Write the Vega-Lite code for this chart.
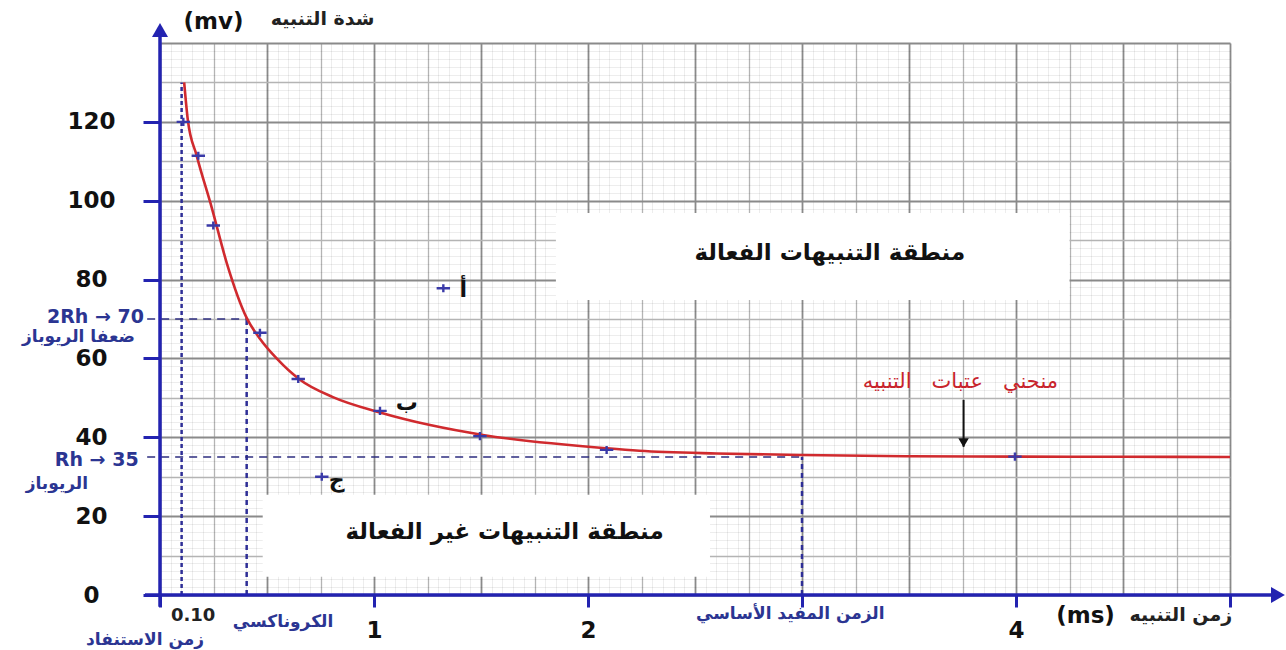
{
  "$schema": "https://vega.github.io/schema/vega-lite/v6.json",
  "width": 1070,
  "height": 552,
  "autosize": {"type": "none"},
  "padding": {"left": 160, "top": 43, "right": 56, "bottom": 55},
  "background": "white",
  "config": {"view": {"stroke": null}, "font": "DejaVu Sans"},
  "datasets": {
    "curve": [
      {"t": 0.113, "v": 130}, {"t": 0.13, "v": 120.5}, {"t": 0.171, "v": 111.5}, {"t": 0.242, "v": 98.2},
      {"t": 0.312, "v": 84.2}, {"t": 0.405, "v": 70.3}, {"t": 0.467, "v": 65.0}, {"t": 0.545, "v": 60.0},
      {"t": 0.654, "v": 54.6}, {"t": 0.808, "v": 50.2}, {"t": 1.028, "v": 46.3}, {"t": 1.262, "v": 43.1},
      {"t": 1.509, "v": 40.6}, {"t": 2.09, "v": 37.2}, {"t": 2.24, "v": 36.6}, {"t": 2.6, "v": 35.9},
      {"t": 3.0, "v": 35.5}, {"t": 3.5, "v": 35.2}, {"t": 4.0, "v": 35.1}, {"t": 4.5, "v": 35.05}, {"t": 5.0, "v": 35.0}
    ],
    "marks": [
      {"t": 0.109, "v": 120.0}, {"t": 0.179, "v": 111.4}, {"t": 0.249, "v": 93.7}, {"t": 0.467, "v": 66.5},
      {"t": 0.646, "v": 54.8}, {"t": 1.028, "v": 46.7}, {"t": 1.495, "v": 40.3}, {"t": 2.087, "v": 36.8},
      {"t": 3.995, "v": 35.1}, {"t": 1.324, "v": 77.8}, {"t": 0.756, "v": 30.0}
    ],
    "guides": [
      {"kind": "dot", "x": 0.101, "x2": 0.101, "y": 0, "y2": 130},
      {"kind": "vdash", "x": 0.405, "x2": 0.405, "y": 0, "y2": 70},
      {"kind": "vdash", "x": 3.0, "x2": 3.0, "y": 0, "y2": 35},
      {"kind": "hdash", "x": -0.06, "x2": 0.405, "y": 70, "y2": 70},
      {"kind": "hdash", "x": -0.06, "x2": 3.0, "y": 35, "y2": 35},
      {"kind": "axis", "x": 0, "x2": 0, "y": -3, "y2": 142},
      {"kind": "axis", "x": -0.07, "x2": 5.2, "y": 0, "y2": 0},
      {"kind": "arrow", "x": 3.755, "x2": 3.755, "y": 49.5, "y2": 37.6}
    ],
    "heads": [
      {"x": 0, "y": 143.3, "dir": "up"},
      {"x": 5.224, "y": 0, "dir": "right"}
    ],
    "boxes": [
      {"x": 1.85, "x2": 4.25, "y": 74.8, "y2": 96.9},
      {"x": 0.48, "x2": 2.57, "y": 4.6, "y2": 25.4}
    ],
    "texts": [
      {"role": "region", "t": "منطقة التنبيهات الفعالة", "x": 3.13, "y": 86.8},
      {"role": "region", "t": "منطقة التنبيهات غير الفعالة", "x": 1.61, "y": 16.0},
      {"role": "curve", "t": "منحني\u00a0\u00a0\u00a0عتبات\u00a0\u00a0\u00a0التنبيه", "x": 3.74, "y": 54.0},
      {"role": "letter", "t": "أ", "x": 1.417, "y": 77.4},
      {"role": "letter", "t": "ب", "x": 1.153, "y": 48.6},
      {"role": "letter", "t": "ج", "x": 0.826, "y": 29.2},
      {"role": "rh", "t": "2Rh → 70", "x": -0.075, "y": 70.6},
      {"role": "rh", "t": "Rh → 35", "x": -0.1, "y": 34.2},
      {"role": "note", "t": "ضعفا الريوباز", "x": -0.381, "y": 65.5},
      {"role": "note", "t": "الريوباز", "x": -0.482, "y": 28.2},
      {"role": "note", "t": "زمن الاستنفاد", "x": -0.07, "y": -11.4},
      {"role": "note", "t": "الكروناكسي", "x": 0.575, "y": -6.8},
      {"role": "note", "t": "الزمن المفيد الأساسي", "x": 2.945, "y": -4.8},
      {"role": "bold", "t": "0.10", "x": 0.155, "y": -5.3},
      {"role": "unit", "t": "(ms)", "x": 4.325, "y": -5.3},
      {"role": "unitAr", "t": "زمن التنبيه", "x": 4.77, "y": -5.0},
      {"role": "unit", "t": "(mv)", "x": 0.25, "y": 145.3},
      {"role": "unitAr", "t": "شدة التنبيه", "x": 0.76, "y": 146.2}
    ]
  },
  "layer": [
    {
      "data": {"name": "guides"},
      "transform": [{"filter": "datum.kind == 'dot'"}],
      "mark": {"type": "rule", "color": "#2e2e96", "strokeWidth": 2.5, "strokeDash": [4, 3]},
      "encoding": {
        "x": {"field": "x", "type": "quantitative", "scale": {"domain": [0, 5], "nice": false},
          "axis": {"orient": "bottom", "values": [0, 1, 2, 3, 4, 5], "grid": false, "domain": false,
            "ticks": true, "tickColor": "#2323b0", "tickWidth": 3, "tickSize": 12,
            "labelExpr": "datum.value == 1 || datum.value == 2 || datum.value == 4 ? datum.label : ''",
            "labelFont": "DejaVu Sans", "labelFontWeight": "bold", "labelFontSize": 23, "labelColor": "#111111",
            "labelPadding": 12, "title": null}},
        "x2": {"field": "x2"},
        "y": {"field": "y", "type": "quantitative", "scale": {"domain": [0, 140], "nice": false},
          "axis": {"orient": "left", "values": [0, 20, 40, 60, 80, 100, 120], "grid": false, "domain": false,
            "ticks": true, "tickColor": "#2323b0", "tickWidth": 3, "tickSize": 17,
            "labelAlign": "center", "labelBaseline": "middle", "labelPadding": 52,
            "labelFont": "DejaVu Sans", "labelFontWeight": "bold", "labelFontSize": 23, "labelColor": "#111111",
            "title": null}},
        "y2": {"field": "y2"}
      }
    },
    {
      "data": {"name": "guides"},
      "transform": [{"filter": "datum.kind == 'vdash'"}],
      "mark": {"type": "rule", "color": "#2e2e96", "strokeWidth": 2.5, "strokeDash": [5, 4]},
      "encoding": {
        "x": {"field": "x", "type": "quantitative", "scale": {"domain": [0, 5], "nice": false},
          "axis": {"orient": "bottom", "tickCount": 100, "grid": true, "gridColor": "#000000", "gridOpacity": 0.07,
            "gridWidth": 1, "domain": false, "ticks": false, "labels": false, "title": null}},
        "x2": {"field": "x2"},
        "y": {"field": "y", "type": "quantitative", "scale": {"domain": [0, 140], "nice": false},
          "axis": {"orient": "left", "tickCount": 70, "grid": true, "gridColor": "#000000", "gridOpacity": 0.07,
            "gridWidth": 1, "domain": false, "ticks": false, "labels": false, "title": null}},
        "y2": {"field": "y2"}
      }
    },
    {
      "data": {"name": "guides"},
      "transform": [{"filter": "datum.kind == 'hdash'"}],
      "mark": {"type": "rule", "color": "#2e2e80", "strokeWidth": 1.6, "strokeDash": [8, 6]},
      "encoding": {
        "x": {"field": "x", "type": "quantitative", "scale": {"domain": [0, 5], "nice": false},
          "axis": {"orient": "bottom", "values": [0.25, 0.75, 1.25, 1.75, 2.25, 2.75, 3.25, 3.75, 4.25, 4.75],
            "grid": true, "gridColor": "#b4b4b4", "gridWidth": 1.3, "domain": false, "ticks": false, "labels": false, "title": null}},
        "x2": {"field": "x2"},
        "y": {"field": "y", "type": "quantitative", "scale": {"domain": [0, 140], "nice": false},
          "axis": {"orient": "left", "values": [10, 30, 50, 70, 90, 110, 130],
            "grid": true, "gridColor": "#b4b4b4", "gridWidth": 1.3, "domain": false, "ticks": false, "labels": false, "title": null}},
        "y2": {"field": "y2"}
      }
    },
    {
      "data": {"name": "boxes"},
      "mark": {"type": "rect", "fill": "white"},
      "encoding": {
        "x": {"field": "x", "type": "quantitative", "scale": {"domain": [0, 5], "nice": false},
          "axis": {"orient": "bottom", "values": [0, 0.5, 1, 1.5, 2, 2.5, 3, 3.5, 4, 4.5, 5],
            "grid": true, "gridColor": "#8a8a8a", "gridWidth": 1.8, "domain": false, "ticks": false, "labels": false, "title": null}},
        "x2": {"field": "x2"},
        "y": {"field": "y", "type": "quantitative", "scale": {"domain": [0, 140], "nice": false},
          "axis": {"orient": "left", "values": [0, 20, 40, 60, 80, 100, 120, 140],
            "grid": true, "gridColor": "#8a8a8a", "gridWidth": 1.8, "domain": false, "ticks": false, "labels": false, "title": null}},
        "y2": {"field": "y2"}
      }
    },
    {
      "data": {"name": "guides"},
      "transform": [{"filter": "datum.kind == 'axis'"}],
      "mark": {"type": "rule", "color": "#2323b0", "strokeWidth": 3.5},
      "encoding": {
        "x": {"field": "x", "type": "quantitative", "axis": null},
        "x2": {"field": "x2"},
        "y": {"field": "y", "type": "quantitative", "axis": null},
        "y2": {"field": "y2"}
      }
    },
    {
      "data": {"name": "heads"},
      "mark": {"type": "point", "filled": true, "color": "#2323b0", "size": 256, "opacity": 1},
      "encoding": {
        "x": {"field": "x", "type": "quantitative", "axis": null},
        "y": {"field": "y", "type": "quantitative", "axis": null},
        "shape": {"field": "dir", "type": "nominal", "legend": null,
          "scale": {"domain": ["up", "right"], "range": ["triangle-up", "triangle-right"]}}
      }
    },
    {
      "data": {"name": "guides"},
      "transform": [{"filter": "datum.kind == 'arrow'"}],
      "mark": {"type": "rule", "color": "#111111", "strokeWidth": 2},
      "encoding": {
        "x": {"field": "x", "type": "quantitative", "axis": null},
        "y": {"field": "y", "type": "quantitative", "axis": null},
        "y2": {"field": "y2"}
      }
    },
    {
      "data": {"name": "guides"},
      "transform": [{"filter": "datum.kind == 'arrow'"}],
      "mark": {"type": "point", "shape": "triangle-down", "filled": true, "color": "#111111", "size": 110, "opacity": 1, "yOffset": -4},
      "encoding": {
        "x": {"field": "x", "type": "quantitative", "axis": null},
        "y": {"field": "y2", "type": "quantitative", "axis": null}
      }
    },
    {
      "data": {"name": "curve"},
      "mark": {"type": "line", "color": "#d02a2e", "strokeWidth": 2.6, "interpolate": "monotone"},
      "encoding": {
        "x": {"field": "t", "type": "quantitative", "axis": null},
        "y": {"field": "v", "type": "quantitative", "axis": null}
      }
    },
    {
      "data": {"name": "marks"},
      "mark": {"type": "point", "shape": "M-1,0H1M0,-0.6V0.6", "filled": false, "stroke": "#3a3aa8", "strokeWidth": 2.4, "size": 180, "opacity": 1},
      "encoding": {
        "x": {"field": "t", "type": "quantitative", "axis": null},
        "y": {"field": "v", "type": "quantitative", "axis": null}
      }
    },
    {
      "data": {"name": "texts"},
      "transform": [{"filter": "datum.role == 'region'"}],
      "mark": {"type": "text", "font": "DejaVu Sans", "fontWeight": "bold", "fontSize": 23, "color": "#111111", "align": "center", "baseline": "middle"},
      "encoding": {
        "x": {"field": "x", "type": "quantitative", "axis": null},
        "y": {"field": "y", "type": "quantitative", "axis": null},
        "text": {"field": "t"}
      }
    },
    {
      "data": {"name": "texts"},
      "transform": [{"filter": "datum.role == 'curve'"}],
      "mark": {"type": "text", "font": "DejaVu Sans", "fontSize": 21, "color": "#c8242c", "align": "center", "baseline": "middle"},
      "encoding": {
        "x": {"field": "x", "type": "quantitative", "axis": null},
        "y": {"field": "y", "type": "quantitative", "axis": null},
        "text": {"field": "t"}
      }
    },
    {
      "data": {"name": "texts"},
      "transform": [{"filter": "datum.role == 'letter'"}],
      "mark": {"type": "text", "font": "DejaVu Sans", "fontWeight": "bold", "fontSize": 22, "color": "#111111", "align": "center", "baseline": "middle"},
      "encoding": {
        "x": {"field": "x", "type": "quantitative", "axis": null},
        "y": {"field": "y", "type": "quantitative", "axis": null},
        "text": {"field": "t"}
      }
    },
    {
      "data": {"name": "texts"},
      "transform": [{"filter": "datum.role == 'rh'"}],
      "mark": {"type": "text", "font": "DejaVu Sans", "fontWeight": "bold", "fontSize": 19, "color": "#2b3592", "align": "right", "baseline": "middle"},
      "encoding": {
        "x": {"field": "x", "type": "quantitative", "axis": null},
        "y": {"field": "y", "type": "quantitative", "axis": null},
        "text": {"field": "t"}
      }
    },
    {
      "data": {"name": "texts"},
      "transform": [{"filter": "datum.role == 'note'"}],
      "mark": {"type": "text", "font": "DejaVu Sans", "fontWeight": "bold", "fontSize": 17, "color": "#2b3592", "align": "center", "baseline": "middle"},
      "encoding": {
        "x": {"field": "x", "type": "quantitative", "axis": null},
        "y": {"field": "y", "type": "quantitative", "axis": null},
        "text": {"field": "t"}
      }
    },
    {
      "data": {"name": "texts"},
      "transform": [{"filter": "datum.role == 'bold'"}],
      "mark": {"type": "text", "font": "DejaVu Sans", "fontWeight": "bold", "fontSize": 18, "color": "#222222", "align": "center", "baseline": "middle"},
      "encoding": {
        "x": {"field": "x", "type": "quantitative", "axis": null},
        "y": {"field": "y", "type": "quantitative", "axis": null},
        "text": {"field": "t"}
      }
    },
    {
      "data": {"name": "texts"},
      "transform": [{"filter": "datum.role == 'unit'"}],
      "mark": {"type": "text", "font": "DejaVu Sans", "fontWeight": "bold", "fontSize": 23, "color": "#111111", "align": "center", "baseline": "middle"},
      "encoding": {
        "x": {"field": "x", "type": "quantitative", "axis": null},
        "y": {"field": "y", "type": "quantitative", "axis": null},
        "text": {"field": "t"}
      }
    },
    {
      "data": {"name": "texts"},
      "transform": [{"filter": "datum.role == 'unitAr'"}],
      "mark": {"type": "text", "font": "DejaVu Sans", "fontWeight": "bold", "fontSize": 19, "color": "#222222", "align": "center", "baseline": "middle"},
      "encoding": {
        "x": {"field": "x", "type": "quantitative", "axis": null},
        "y": {"field": "y", "type": "quantitative", "axis": null},
        "text": {"field": "t"}
      }
    }
  ],
  "resolve": {"axis": {"x": "independent", "y": "independent"}}
}
